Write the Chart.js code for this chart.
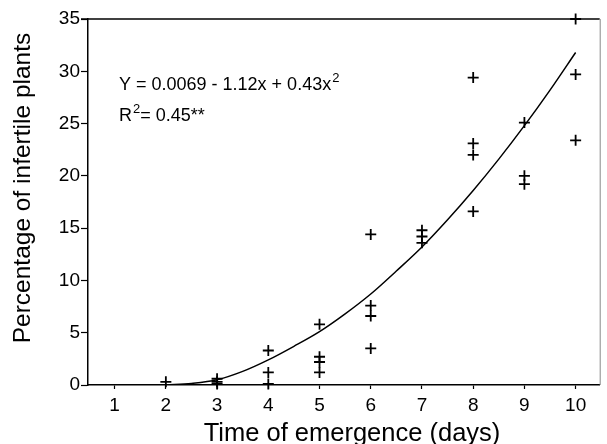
<!DOCTYPE html>
<html>
<head>
<meta charset="utf-8">
<script src="https://cdn.jsdelivr.net/npm/chart.js@4/dist/chart.umd.min.js"></script>
<style>
html,body{margin:0;padding:0;background:#fff;}
#wrap{width:607px;height:444px;position:relative;}
</style>
</head>
<body>
<div id="wrap"><canvas id="c" width="607" height="444"></canvas></div>
<script>
const days = [2, 3, 3, 3, 4, 4, 4, 5, 5, 5, 5, 6, 6, 6, 6, 7, 7, 7, 8, 8, 8, 8, 9, 9, 9, 10, 10, 10];
const infertile = [0.3, 0.6, 0.3, 0.1, 3.3, 1.2, 0.1, 5.8, 2.7, 2.2, 1.2, 14.4, 7.6, 6.6, 3.5, 14.8, 14.2, 13.6, 29.4, 23.1, 22.0, 16.6, 25.1, 20.0, 19.2, 35.0, 29.7, 23.4];

// Fitted curve
const fitX = [2, 2.5, 3, 3.5, 4, 4.5, 5, 5.5, 6, 6.5, 7, 7.5, 8, 8.5, 9, 9.5, 10];
const fitY = [0, 0.15, 0.5, 1.3, 2.4, 3.7, 5.1, 6.8, 8.7, 10.9, 13.2, 15.8, 18.6, 21.6, 24.8, 28.2, 31.8];

const xTickValues = [1, 2, 3, 4, 5, 6, 7, 8, 9, 10];
const yTickValues = [0, 5, 10, 15, 20, 25, 30, 35];

const xTitle = 'Time of emergence (days)';
const yTitle = 'Percentage of infertile plants';
const eqLine1 = ['Y = 0.0069 - 1.12x + 0.43x', '2'];
const eqLine2 = ['R', '2', '= 0.45**'];

const FONT = '"Liberation Sans", Arial, Helvetica, sans-serif';

const decor = {
  id: 'decor',
  afterDraw(chart) {
    const ctx = chart.ctx;
    const a = chart.chartArea;
    ctx.save();
    // top frame line
    ctx.strokeStyle = '#000';
    ctx.lineWidth = 1.5;
    ctx.beginPath();
    ctx.moveTo(a.left - 7, a.top);
    ctx.lineTo(a.right, a.top);
    ctx.stroke();
    // right frame line (faint)
    ctx.strokeStyle = '#888';
    ctx.lineWidth = 1;
    ctx.beginPath();
    ctx.moveTo(a.right + 0.5, a.top);
    ctx.lineTo(a.right + 0.5, a.bottom);
    ctx.stroke();

    ctx.fillStyle = '#000';
    // x title
    ctx.font = '25.5px ' + FONT;
    ctx.textAlign = 'center';
    ctx.textBaseline = 'alphabetic';
    ctx.fillText(xTitle, 352, 441);
    // y title
    ctx.save();
    ctx.translate(30, 188);
    ctx.rotate(-Math.PI / 2);
    ctx.font = '24.5px ' + FONT;
    ctx.fillText(yTitle, 0, 0);
    ctx.restore();

    // equation
    ctx.textAlign = 'left';
    let x = 119;
    ctx.font = '18px ' + FONT;
    ctx.fillText(eqLine1[0], x, 90);
    x += ctx.measureText(eqLine1[0]).width + 1;
    ctx.font = '13px ' + FONT;
    ctx.fillText(eqLine1[1], x, 82);

    x = 119;
    ctx.font = '18px ' + FONT;
    ctx.fillText(eqLine2[0], x, 121);
    x += ctx.measureText(eqLine2[0]).width + 1;
    ctx.font = '13px ' + FONT;
    ctx.fillText(eqLine2[1], x, 113);
    x += ctx.measureText(eqLine2[1]).width;
    ctx.font = '18px ' + FONT;
    ctx.fillText(eqLine2[2], x, 121);
    ctx.restore();
  }
};

new Chart(document.getElementById('c'), {
  type: 'scatter',
  data: {
    datasets: [
      {
        label: 'Observed',
        data: days.map((d, i) => ({ x: d, y: infertile[i] })),
        pointStyle: 'cross',
        pointRadius: 5.5,
        pointBorderWidth: 1.8,
        borderColor: '#000',
        backgroundColor: '#000',
        clip: false
      },
      {
        label: 'Fit',
        type: 'line',
        data: fitX.map((d, i) => ({ x: d, y: fitY[i] })),
        borderColor: '#000',
        borderWidth: 1.5,
        pointRadius: 0,
        cubicInterpolationMode: 'monotone',
        fill: false
      }
    ]
  },
  options: {
    responsive: false,
    animation: false,
    events: [],
    layout: { padding: { top: 19, right: 2, left: 0, bottom: 0 } },
    plugins: { legend: { display: false }, tooltip: { enabled: false } },
    scales: {
      x: {
        type: 'linear',
        min: 0.48,
        max: 10.47,
        afterBuildTicks: s => { s.ticks = xTickValues.map(v => ({ value: v })); },
        afterFit: s => { s.height = 59; },
        grid: { drawOnChartArea: false, drawTicks: true, tickLength: 4, tickColor: '#000', tickWidth: 1.2 },
        border: { color: '#000', width: 1.5 },
        ticks: { color: '#000', font: { family: FONT, size: 19 }, padding: 5, maxRotation: 0 }
      },
      y: {
        min: 0,
        max: 35,
        afterBuildTicks: s => { s.ticks = yTickValues.map(v => ({ value: v })); },
        afterFit: s => { s.width = 88; },
        grid: { drawOnChartArea: false, drawTicks: true, tickLength: 7, tickColor: '#000', tickWidth: 1.2 },
        border: { color: '#000', width: 1.5 },
        ticks: { color: '#000', font: { family: FONT, size: 19 }, padding: 1 }
      }
    }
  },
  plugins: [decor]
});
</script>
</body>
</html>
